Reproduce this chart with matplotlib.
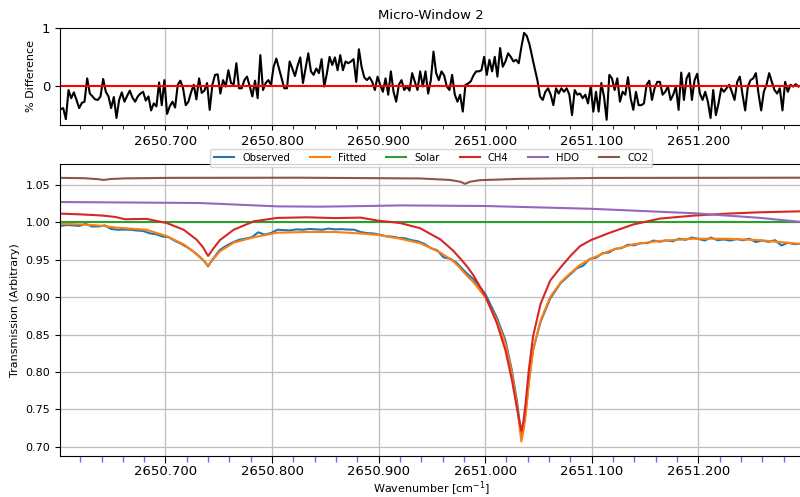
import numpy as np
import matplotlib
matplotlib.use("Agg")
import matplotlib.pyplot as plt
from matplotlib.ticker import MultipleLocator, FormatStrFormatter


#  percent difference (observed vs fitted), uniform grid of 0.0025 cm-1
diff_start, diff_stop = 2650.6015, 2651.2940
diff_pct = [
    -0.40, -0.38, -0.57, -0.07, -0.21, -0.11, -0.24, -0.38, -0.29, -0.27,
    0.13, -0.13, -0.18, -0.23, -0.24, -0.18, 0.12, -0.10, -0.18, -0.38,
    -0.19, -0.55, -0.24, -0.11, -0.27, -0.17, -0.08, -0.20, -0.27, -0.18,
    -0.13, -0.10, -0.25, -0.18, -0.42, -0.30, -0.35, 0.06, -0.33, 0.10,
    -0.48, -0.35, -0.27, -0.37, 0.02, 0.09, -0.04, -0.33, -0.27, -0.11,
    0.02, -0.23, 0.13, -0.12, -0.08, 0.05, -0.41, 0.02, 0.19, 0.20,
    -0.13, 0.10, -0.01, 0.27, 0.05, 0.03, 0.39, -0.04, -0.04, 0.10,
    0.16, 0.00, -0.18, 0.09, -0.21, 0.53, -0.07, 0.05, 0.10, 0.02,
    0.33, 0.47, 0.30, 0.13, -0.04, -0.04, 0.42, 0.30, 0.17, 0.35,
    0.49,
    0.05, 0.30, 0.56, 0.25, 0.19, 0.30, 0.22, 0.46, -0.01, 0.22,
    0.50, 0.36, 0.49, 0.27, 0.53, 0.27, 0.42, 0.39, 0.42, 0.46,
    0.07, 0.63, 0.33, 0.15, 0.10, 0.15, 0.07, -0.07, 0.16, 0.02,
    -0.10, 0.13, -0.15, 0.25, -0.10, -0.27, 0.02, 0.10, -0.07, -0.01,
    -0.08, 0.22, 0.07, -0.07, 0.25, -0.01, 0.25, -0.13, 0.10, 0.59,
    0.22, 0.10, 0.25, 0.18, -0.01, -0.07, 0.19, -0.15, -0.27, -0.15,
    -0.44, 0.02, 0.04, 0.08, 0.18, 0.25, 0.25, 0.27, 0.50, 0.19,
    0.45, 0.25, 0.50, 0.16, 0.65, 0.33, 0.42, 0.56, 0.50, 0.42,
    0.45, 0.39, 0.67, 0.91, 0.86, 0.72, 0.51, 0.30, 0.10, -0.18,
    -0.24,
    -0.10, -0.04, -0.15, -0.33, -0.04, -0.13, -0.04, -0.10, -0.04, -0.15,
    -0.50, -0.07, -0.15, -0.13, -0.21, -0.15, -0.30, -0.01, -0.44, -0.10,
    -0.44, 0.05, -0.18, -0.58, 0.19, 0.13, -0.07, 0.13, -0.27, -0.10,
    -0.15, 0.15, -0.21, -0.41, -0.10, -0.33, -0.33, -0.30, 0.02, 0.09,
    -0.24, -0.04, 0.07, 0.07, -0.15, -0.10, -0.01, -0.24, -0.15, -0.01,
    -0.41, 0.23, -0.24, 0.13, 0.22, -0.24, 0.10, 0.21, -0.13, -0.24,
    -0.10, -0.27, -0.55, -0.07, -0.50, -0.30, -0.04, -0.10, -0.04, 0.02,
    -0.10, -0.24, 0.07, 0.16, -0.15, -0.42, -0.01, 0.10, 0.13, 0.22,
    -0.13, -0.42, -0.10, 0.02, 0.22, 0.07, -0.07, -0.13, -0.04, -0.42,
    0.07, -0.10, 0.02, -0.01, 0.03, -0.01,
]
diff_wn = np.linspace(diff_start, diff_stop, len(diff_pct))

#  observed spectrum
obs_wn = [
    2650.601, 2650.607, 2650.613, 2650.619, 2650.625, 2650.631, 2650.637, 2650.643, 2650.649, 2650.655,
    2650.661, 2650.667, 2650.673, 2650.679, 2650.685, 2650.691, 2650.697, 2650.703, 2650.709, 2650.715,
    2650.721, 2650.727, 2650.733, 2650.737, 2650.740, 2650.743, 2650.747, 2650.751, 2650.757, 2650.763,
    2650.769, 2650.775, 2650.781, 2650.787, 2650.793, 2650.799, 2650.805, 2650.811, 2650.817, 2650.823,
    2650.829, 2650.835, 2650.841, 2650.847, 2650.853, 2650.859, 2650.865, 2650.871, 2650.877, 2650.883,
    2650.889, 2650.895, 2650.901, 2650.907, 2650.913, 2650.919, 2650.925, 2650.931, 2650.937, 2650.943,
    2650.949, 2650.955, 2650.961, 2650.967, 2650.973, 2650.979, 2650.984,
    2650.989, 2651.000, 2651.011, 2651.019, 2651.025, 2651.030, 2651.032, 2651.034, 2651.036, 2651.038,
    2651.041, 2651.045, 2651.052, 2651.061, 2651.071, 2651.080,
    2651.086, 2651.092, 2651.098, 2651.104, 2651.110, 2651.116, 2651.122, 2651.128, 2651.134, 2651.140,
    2651.146, 2651.152, 2651.158, 2651.164, 2651.170, 2651.176, 2651.182, 2651.188, 2651.194, 2651.200,
    2651.206, 2651.212, 2651.218, 2651.224, 2651.230, 2651.236, 2651.242, 2651.248, 2651.254, 2651.260,
    2651.266, 2651.272, 2651.278, 2651.284, 2651.290, 2651.296,
]
observed = [
    0.9950, 0.9962, 0.9958, 0.9950, 0.9978, 0.9943, 0.9943, 0.9958, 0.9910, 0.9900,
    0.9902, 0.9900, 0.9890, 0.9883, 0.9853, 0.9840, 0.9810, 0.9800, 0.9750, 0.9710,
    0.9660, 0.9600, 0.9525, 0.9470, 0.9410, 0.9480, 0.9555, 0.9630, 0.9685, 0.9730,
    0.9765, 0.9780, 0.9800, 0.9865, 0.9835, 0.9855, 0.9900, 0.9895, 0.9890, 0.9905,
    0.9900, 0.9910, 0.9905, 0.9900, 0.9915, 0.9905, 0.9908, 0.9902, 0.9900, 0.9870,
    0.9855, 0.9850, 0.9833, 0.9813, 0.9807, 0.9790, 0.9785, 0.9760, 0.9745, 0.9710,
    0.9655, 0.9625, 0.9530, 0.9515, 0.9460, 0.9370, 0.9300,
    0.9240, 0.9045, 0.8725, 0.8420, 0.8025, 0.7595, 0.7360, 0.7135, 0.7280, 0.7470,
    0.7880, 0.8300, 0.8670, 0.8980, 0.9190, 0.9306,
    0.9385, 0.9420, 0.9510, 0.9525, 0.9585, 0.9595, 0.9645, 0.9655, 0.9700, 0.9692,
    0.9722, 0.9720, 0.9755, 0.9740, 0.9758, 0.9745, 0.9780, 0.9765, 0.9795, 0.9778,
    0.9756, 0.9795, 0.9760, 0.9770, 0.9755, 0.9775, 0.9760, 0.9780, 0.9735, 0.9756,
    0.9738, 0.9760, 0.9690, 0.9725, 0.9708, 0.9710,
]

#  model grid for fitted spectrum and CH4
model_wn = [
    2650.601, 2650.620, 2650.634, 2650.642, 2650.653, 2650.662, 2650.682, 2650.701, 2650.717, 2650.729,
    2650.735, 2650.740, 2650.745, 2650.751, 2650.764, 2650.783, 2650.805, 2650.833, 2650.859, 2650.883,
    2650.900, 2650.920, 2650.939, 2650.958, 2650.970, 2650.975, 2650.980, 2650.984, 2650.989, 2651.000,
    2651.011, 2651.019, 2651.025, 2651.030, 2651.032, 2651.034, 2651.036, 2651.038, 2651.041, 2651.045,
    2651.052, 2651.061, 2651.071, 2651.080, 2651.089, 2651.099, 2651.117, 2651.139, 2651.164, 2651.196,
    2651.227, 2651.258, 2651.296,
]
fitted = [
    0.9980, 0.9970, 0.9960, 0.9950, 0.9930, 0.9920, 0.9900, 0.9815, 0.9705, 0.9580,
    0.9500, 0.9420, 0.9510, 0.9610, 0.9727, 0.9800, 0.9860, 0.9870, 0.9870, 0.9850,
    0.9830, 0.9780, 0.9720, 0.9595, 0.9480, 0.9410, 0.9330, 0.9270, 0.9200, 0.9000,
    0.8690, 0.8380, 0.7990, 0.7550, 0.7300, 0.7070, 0.7220, 0.7420, 0.7850, 0.8290,
    0.8690, 0.9000, 0.9200, 0.9320, 0.9430, 0.9510, 0.9620, 0.9705, 0.9750, 0.9780,
    0.9780, 0.9760, 0.9710,
]
ch4 = [
    1.0115, 1.0105, 1.0095, 1.0088, 1.0070, 1.0040, 1.0045, 0.9990, 0.9900, 0.9770,
    0.9670, 0.9550, 0.9650, 0.9760, 0.9900, 1.0013, 1.0058, 1.0066, 1.0055, 1.0062,
    1.0020, 0.9990, 0.9920, 0.9770, 0.9620, 0.9540, 0.9460, 0.9390, 0.9290, 0.9020,
    0.8650, 0.8290, 0.7900, 0.7500, 0.7350, 0.7210, 0.7350, 0.7590, 0.8030, 0.8480,
    0.8910, 0.9220, 0.9400, 0.9550, 0.9680, 0.9760, 0.9860, 0.9970, 1.0049, 1.0089,
    1.0115, 1.0133, 1.0146,
]

#  solar
solar_wn = [2650.601, 2651.296]
solar = [1.000, 1.000]

#  HDO
hdo_wn = [2650.601, 2650.732, 2650.805, 2650.844, 2650.890, 2650.920, 2651.000, 2651.099, 2651.196, 2651.258, 2651.296]
hdo = [1.0270, 1.0257, 1.0212, 1.0208, 1.0217, 1.0225, 1.0217, 1.0180, 1.0120, 1.0058, 1.0005]

#  CO2
co2_wn = [
    2650.601, 2650.624, 2650.637, 2650.642, 2650.648, 2650.662, 2650.704, 2650.826, 2650.939,
    2650.967, 2650.977, 2650.981, 2650.986, 2650.995, 2651.033, 2651.108, 2651.296,
]
co2 = [
    1.0593, 1.0588, 1.0575, 1.0565, 1.0577, 1.0586, 1.0593, 1.0595, 1.0585,
    1.0565, 1.0540, 1.0513, 1.0542, 1.0562, 1.0580, 1.0592, 1.0595,
]

x_range = (2650.6010, 2651.2977)

fig = plt.figure(figsize=(8, 4.97), dpi=100)

#  top panel: percent difference
ax1 = fig.add_axes([0.075, 0.7485, 0.928, 0.1958])
ax1.plot(diff_wn, diff_pct, color="black", lw=1.5)
ax1.axhline(0, color="red", lw=1.5)
ax1.set_xlim(x_range)
ax1.set_ylim(-0.67, 1.0)
ax1.set_yticks([0, 1])
ax1.set_ylabel("% Difference", fontsize=8)
ax1.set_title("Micro-Window 2", fontsize=9.5)
ax1.xaxis.set_major_locator(MultipleLocator(0.1))
ax1.xaxis.set_minor_locator(MultipleLocator(0.02))
ax1.xaxis.set_major_formatter(FormatStrFormatter("%.3f"))
ax1.tick_params(axis="both", which="major", labelsize=9.5)
ax1.tick_params(axis="x", which="minor", length=3)
ax1.grid(axis="x", which="major", color="#bdbdbd", lw=0.9)
ax1.set_axisbelow(True)

#  bottom panel: transmission spectra
ax2 = fig.add_axes([0.075, 0.083, 0.928, 0.5864])
ax2.plot(obs_wn, observed, label="Observed")
ax2.plot(model_wn, fitted, label="Fitted")
ax2.plot(solar_wn, solar, label="Solar")
ax2.plot(model_wn, ch4, label="CH4")
ax2.plot(hdo_wn, hdo, label="HDO")
ax2.plot(co2_wn, co2, label="CO2")
ax2.set_xlim(x_range)
ax2.set_ylim(0.688, 1.0774)
ax2.yaxis.set_major_locator(MultipleLocator(0.05))
ax2.yaxis.set_major_formatter(FormatStrFormatter("%.2f"))
ax2.xaxis.set_major_locator(MultipleLocator(0.1))
ax2.xaxis.set_minor_locator(MultipleLocator(0.02))
ax2.xaxis.set_major_formatter(FormatStrFormatter("%.3f"))
ax2.tick_params(axis="x", which="major", labelsize=9.5, length=5, pad=2)
ax2.tick_params(axis="y", which="major", labelsize=8)
ax2.tick_params(axis="x", which="minor", length=4, width=1, color="#6a6ae6")
ax2.set_ylabel("Transmission (Arbitrary)", fontsize=8)
ax2.set_xlabel("Wavenumber [cm$^{-1}$]", fontsize=8, labelpad=0.5)
ax2.grid(which="major", color="#bdbdbd", lw=0.9)
ax2.set_axisbelow(True)
ax2.legend(loc="center", bbox_to_anchor=(0.5, 1.023), ncol=6, fontsize=7.2,
           frameon=True, borderaxespad=0)

fig.savefig("out.png", dpi=100)
plt.close()
